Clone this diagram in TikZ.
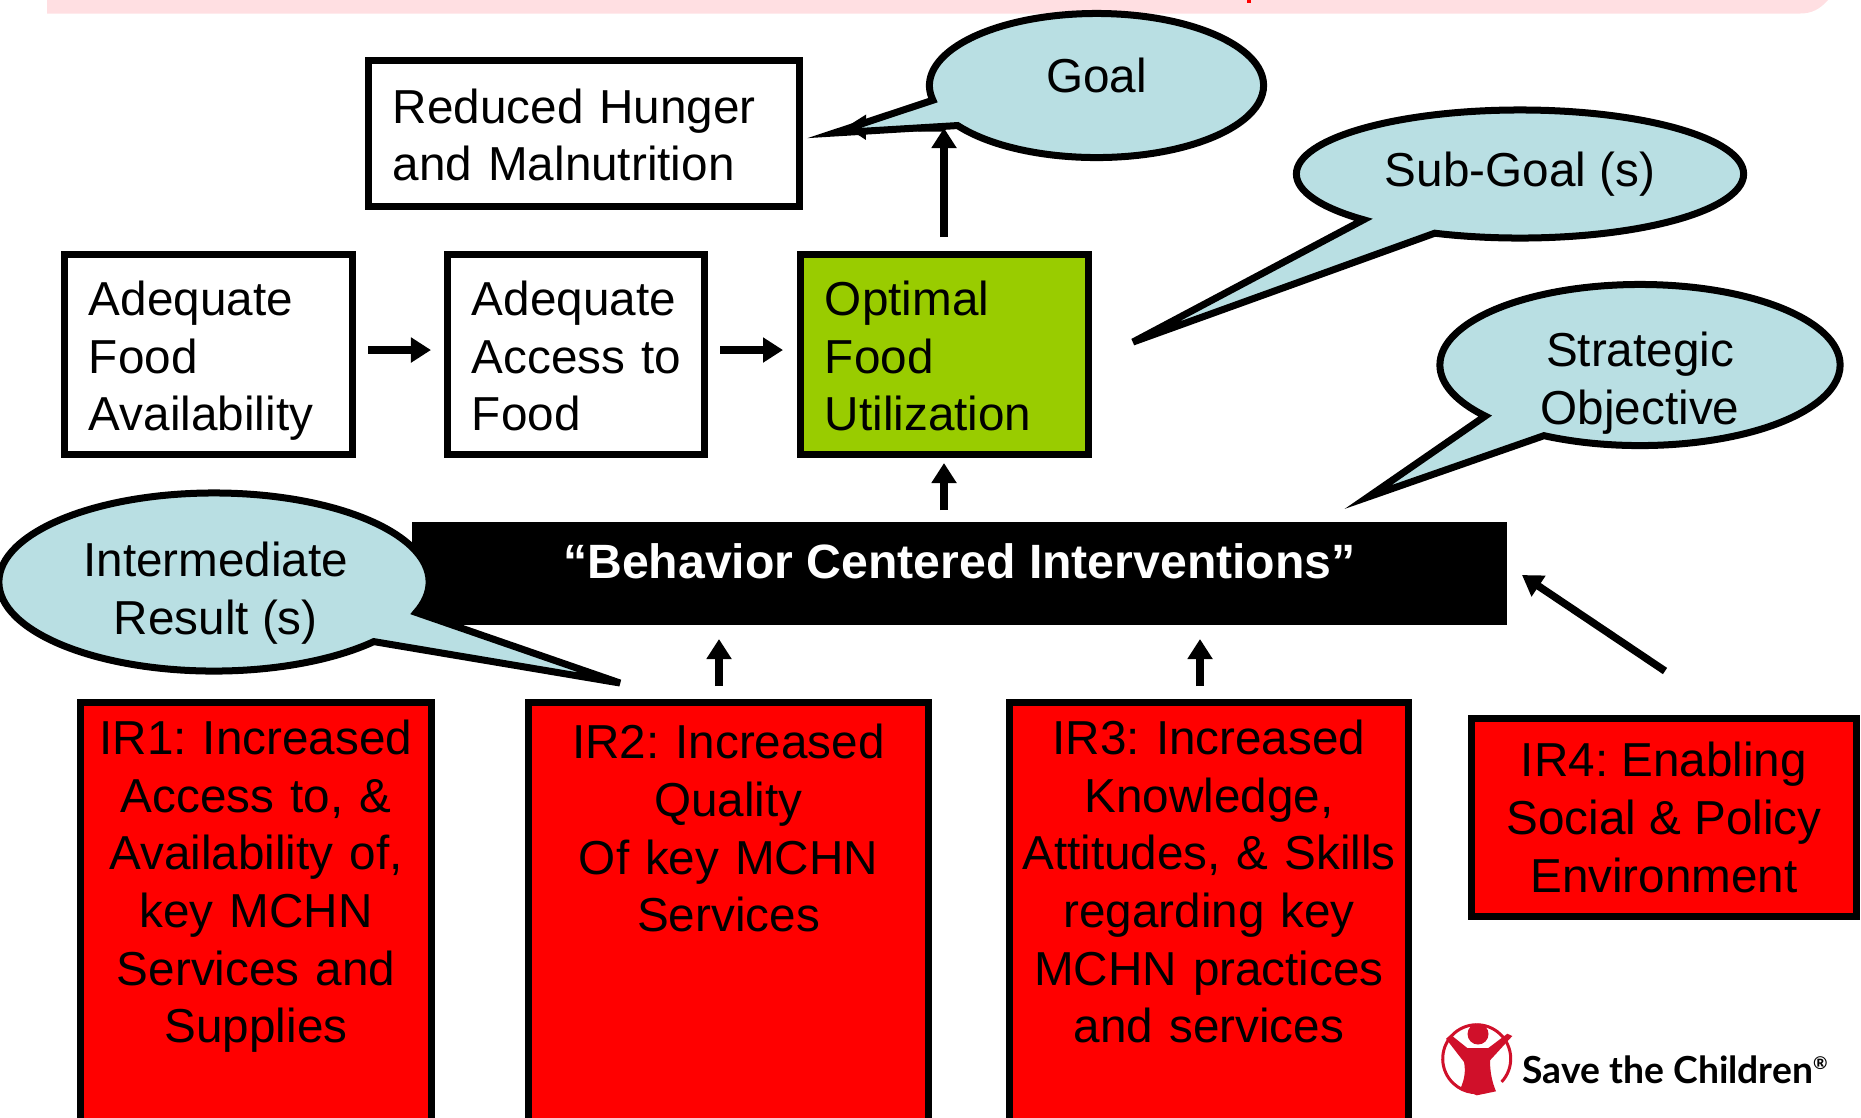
\documentclass[tikz,border=0pt]{standalone}
\usepackage{fontspec}
\setmainfont{Liberation Sans}
\newfontfamily\logofont{Lato}
\usetikzlibrary{arrows.meta,shapes.callouts}
\frenchspacing

\definecolor{bandpink}{HTML}{FFDFE2}
\definecolor{bubbleblue}{HTML}{B9DFE3}
\definecolor{leafgreen}{HTML}{99CC00}
\definecolor{logored}{HTML}{D0102A}

\newcommand{\lift}[1]{\rule{0pt}{#1}}

\tikzset{
  every node/.style={font=\fontsize{13.55}{16.4}\selectfont},
  plainbox/.style={draw, line width=0.07cm, fill=white, align=left, text width=#1, inner xsep=0.24cm, inner ysep=0pt},
  irbox/.style={draw, line width=0.07cm, fill=red, align=center, anchor=north, inner xsep=0pt, inner ysep=0.175cm, text depth=4.4cm},
  bubble/.style={ellipse callout, draw, line width=0.07cm, fill=bubbleblue, align=center, inner sep=-0.5cm, callout pointer arc=22},
  arw/.style={line width=0.075cm, -{Triangle[length=0.2cm, width=0.24cm]}}
}

\begin{document}
\begin{tikzpicture}[x=0.01cm, y=-0.01cm]
  \clip (0,0) rectangle (1861,1117);

  \fill[bandpink] (47,-10) -- (1828,-10) -- (1828,0) .. controls (1820,9) and (1812,13.5) .. (1800,13.5) -- (47,13.5) -- cycle;
  \fill[red] (1247,0) rectangle (1251,3);

  \node[plainbox=3.82cm, minimum height=1.45cm] (hunger) at (584,133.5) {\lift{10.7pt}Reduced Hunger\\and Malnutrition};
  \node[plainbox=2.39cm, minimum height=1.99cm] (avail) at (208.5,354.5) {\lift{13.4pt}Adequate\\Food\\Availability};
  \node[plainbox=2.08cm, minimum height=1.99cm] (access) at (576,354.5) {\lift{10.7pt}Adequate\\Access~to\\Food};
  \node[plainbox=2.39cm, minimum height=1.99cm, fill=leafgreen] (util) at (944.5,354.5) {\lift{10.7pt}Optimal\\Food\\Utilization};

  \node[fill=black, text=white, minimum width=10.95cm, minimum height=1.03cm, inner sep=0pt] (bci) at (959.5,573.5)
    {\fontsize{13.7}{16.4}\selectfont\raisebox{7pt}{\bfseries “Behavior Centered Interventions”}};

  \node[irbox, text width=3.5cm] (ir1) at (256,699) {IR1: Increased\\Access to, \&\\Availability of,\\key MCHN\\Services and\\Supplies};
  \node[irbox, text width=3.99cm] (ir2) at (728.5,699) {\lift{11pt}IR2: Increased\\Quality\\Of key MCHN\\Services};
  \node[irbox, text width=3.98cm] (ir3) at (1209,699) {IR3: Increased\\Knowledge,\\Attitudes, \& Skills\\regarding key\\MCHN practices\\and services};
  \node[draw, line width=0.07cm, fill=red, align=center, minimum width=3.84cm, minimum height=1.97cm, inner sep=0pt] (ir4) at (1664,817.5) {IR4: Enabling\\Social \& Policy\\Environment};

  \coordinate (goalend) at (944,128);
  \coordinate (utiltop) at (944,237);
  \coordinate (hungerend) at (846,127);
  \draw[arw] (utiltop) -- (goalend);
  \draw[arw] (goalend) -- (hungerend);
  \draw[arw] (368,350) -- (431,350);
  \draw[arw] (720,350) -- (783,350);
  \draw[arw] (944,510) -- (944,463);
  \draw[arw] (719,686) -- (719,639);
  \draw[arw] (1200,686) -- (1200,639);
  \draw[arw] (1665,671) -- (1522,575);

  \node[bubble, minimum width=3.34cm, minimum height=1.44cm, callout absolute pointer={(834,133)}] (goal) at (1096.5,85.5) {\raisebox{6pt}{Goal}};
  \node[bubble, minimum width=4.47cm, minimum height=1.28cm, callout absolute pointer={(1133,342)}] (subgoal) at (1520,174) {\raisebox{2.4pt}{Sub-Goal (s)}};
  \node[bubble, minimum width=4.0cm, minimum height=1.61cm, callout absolute pointer={(1368,497)}] (so) at (1640,365) {\lift{20pt}Strategic\\Objective};
  \node[bubble, minimum width=4.3cm, minimum height=1.78cm, callout absolute pointer={(620,683)}] (ires) at (214,582) {\lift{16pt}\hspace*{1pt}Intermediate\\\hspace*{1pt}Result (s)};

  \draw[logored, line width=0.03cm] (1476.7,1058.7) ++(43:34) arc[start angle=43, end angle=-297, radius=34];
  \fill[logored] (1478,1034) circle[radius=10.5];
  \fill[logored] (1446,1038.7) -- (1450.7,1034.7) -- (1467.3,1048) -- (1488.3,1048) -- (1507.3,1033.7) -- (1512.3,1036) -- (1490,1060.3)
    .. controls (1490,1072) and (1492,1082) .. (1496,1091.3) -- (1476.7,1095.3) -- (1460.7,1088) .. controls (1464,1080) and (1466,1072) .. (1464,1062) -- cycle;
  \node[font={\logofont\bfseries\fontsize{10.6}{12}\selectfont}, anchor=west, inner sep=0pt] (logotext) at (1522,1070) {Save the Children\textsuperscript{\tiny ®}};
\end{tikzpicture}
\end{document}
